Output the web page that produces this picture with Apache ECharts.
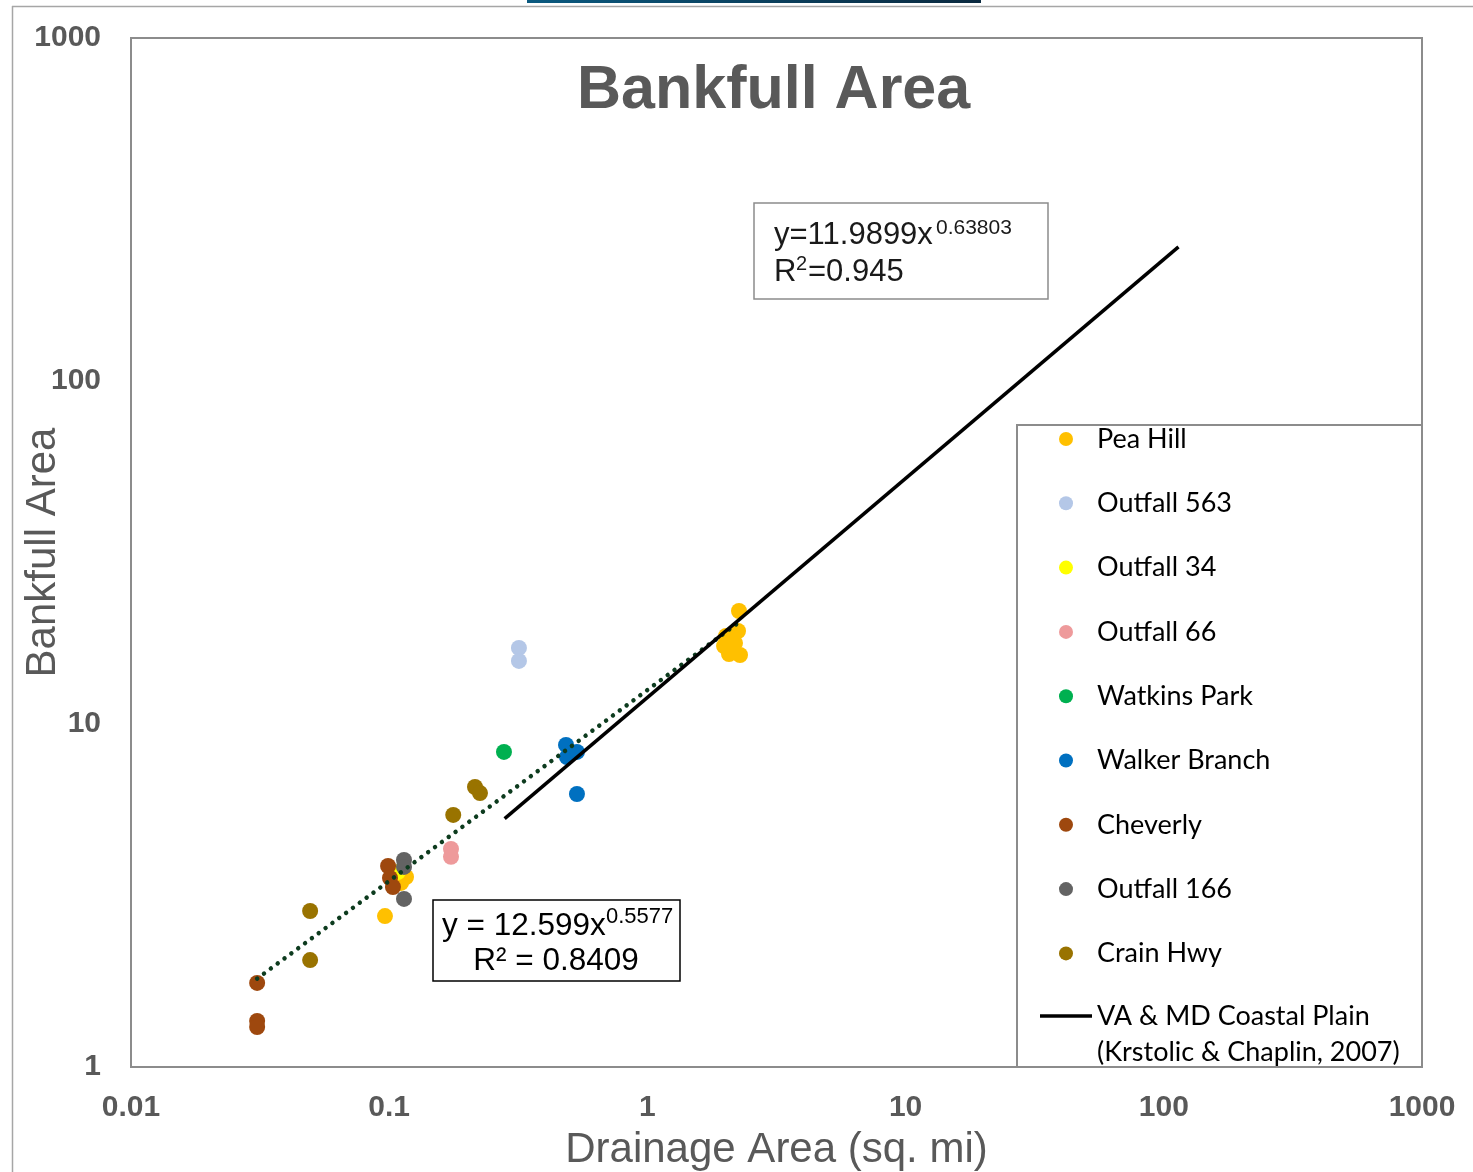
<!DOCTYPE html>
<html>
<head>
<meta charset="utf-8">
<script src="https://cdn.jsdelivr.net/npm/echarts@6/dist/echarts.min.js"></script>
<style>
html,body{margin:0;padding:0;background:#fff;}
#chart{width:1473px;height:1172px;}
</style>
</head>
<body>
<div id="chart"></div>
<script>
// ---- data ----
const xTickLabels = ['0.01', '0.1', '1', '10', '100', '1000'];
const yTickLabels = ['1', '10', '100', '1000'];

const peaHillX = [0.0963, 0.1162, 0.1111, 2.263, 2.244, 2.016, 2.184, 1.981, 2.07, 2.284, 2.145];
const peaHillY = [2.755, 3.58, 3.44, 21.35, 18.67, 18.06, 17.22, 16.88, 16.0, 15.89, 16.21];

const outfall563X = [0.318, 0.318];
const outfall563Y = [16.66, 15.27];

const outfall34X = [0.108];
const outfall34Y = [3.70];

const outfall66X = [0.1735, 0.1735];
const outfall66Y = [4.32, 4.10];

const watkinsX = [0.2783];
const watkinsY = [8.29];

const walkerX = [0.484, 0.488, 0.5336, 0.5336];
const walkerY = [8.69, 8.01, 8.29, 6.25];

const cheverlyX = [0.0308, 0.0308, 0.0308, 0.099, 0.1007, 0.1034];
const cheverlyY = [1.758, 1.362, 1.308, 3.855, 3.556, 3.348];

const outfall166X = [0.1141, 0.1141, 0.1141];
const outfall166Y = [4.015, 3.83, 3.09];

const crainX = [0.0494, 0.0494, 0.177, 0.2149, 0.2247];
const crainY = [2.85, 2.05, 5.43, 6.55, 6.29];

// regional curve (VA & MD Coastal Plain) end points
const coastalX = [0.28, 114];
const coastalY = [5.3, 246];

// power trendline of the data, end points
const trendX = [0.0308, 2.284];
const trendY = [1.81, 19.9];

const seriesNames = ['Pea Hill', 'Outfall 563', 'Outfall 34', 'Outfall 66', 'Watkins Park',
  'Walker Branch', 'Cheverly', 'Outfall 166', 'Crain Hwy'];
const seriesColors = ['#FFC000', '#B4C7E7', '#FFFF00', '#EE9A9B', '#00B050',
  '#0070C0', '#9E480E', '#636363', '#997300'];
const seriesX = [peaHillX, outfall563X, outfall34X, outfall66X, watkinsX, walkerX, cheverlyX, outfall166X, crainX];
const seriesY = [peaHillY, outfall563Y, outfall34Y, outfall66Y, watkinsY, walkerY, cheverlyY, outfall166Y, crainY];
const coastalName = 'VA & MD Coastal Plain\n(Krstolic & Chaplin, 2007)';

function pairs(xs, ys) { return xs.map((x, i) => [x, ys[i]]); }

const chart = echarts.init(document.getElementById('chart'), null, {renderer: 'canvas'});

const series = seriesNames.map((n, i) => ({
  name: n,
  type: 'scatter',
  symbol: 'circle',
  symbolSize: 16,
  itemStyle: {color: seriesColors[i], opacity: 1},
  data: pairs(seriesX[i], seriesY[i]),
  z: 2
}));
series.push({
  name: 'trend',
  type: 'line',
  symbol: 'none',
  data: pairs(trendX, trendY),
  lineStyle: {color: '#0D3B1E', width: 4.5, type: [0.01, 8.5], cap: 'round'},
  z: 3
});
series.push({
  name: coastalName,
  type: 'line',
  symbol: 'none',
  data: pairs(coastalX, coastalY),
  lineStyle: {color: '#000000', width: 3.5},
  itemStyle: {color: '#000000'},
  z: 3
});

const tickFont = {fontFamily: 'Liberation Sans', fontWeight: 'bold', fontSize: 30, color: '#595959'};
const annFont = '"Liberation Sans"';

const option = {
  backgroundColor: '#ffffff',
  animation: false,
  title: {
    text: 'Bankfull Area',
    left: 577,
    top: 61,
    padding: 0,
    textStyle: {fontFamily: 'Liberation Sans', fontWeight: 'bold', fontSize: 61, color: '#595959'}
  },
  grid: {
    left: 131, top: 38, width: 1291, height: 1029,
    containLabel: false, outerBoundsMode: 'none',
    show: true, borderColor: '#8c8c8c', borderWidth: 2, backgroundColor: 'transparent'
  },
  xAxis: {
    type: 'log', logBase: 10, min: 0.01, max: 1000,
    axisLine: {show: false}, axisTick: {show: false}, splitLine: {show: false},
    axisLabel: Object.assign({margin: 26, formatter: v => xTickLabels[Math.round(Math.log10(v)) + 2]}, tickFont),
    name: 'Drainage Area (sq. mi)', nameLocation: 'middle', nameGap: 62, nameMoveOverlap: false,
    nameTextStyle: {fontFamily: 'Liberation Sans', fontSize: 42, color: '#595959'}
  },
  yAxis: {
    type: 'log', logBase: 10, min: 1, max: 1000,
    axisLine: {show: false}, axisTick: {show: false}, splitLine: {show: false},
    axisLabel: Object.assign({margin: 30, formatter: v => yTickLabels[Math.round(Math.log10(v))]}, tickFont),
    name: 'Bankfull Area', nameLocation: 'middle', nameGap: 67, nameMoveOverlap: false,
    nameTextStyle: {fontFamily: 'Liberation Sans', fontSize: 42, color: '#595959'}
  },
  legend: [{
    data: seriesNames,
    orient: 'vertical',
    left: 1059, top: 424, padding: 0,
    itemWidth: 52, itemHeight: 14, itemGap: 34.3,
    selectedMode: false,
    textStyle: {fontFamily: 'Lato', fontSize: 27, color: '#000', lineHeight: 30}
  }, {
    data: [{name: coastalName, icon: 'rect'}],
    orient: 'vertical',
    left: 1040, top: 962, padding: 0,
    itemWidth: 52, itemHeight: 3.5,
    selectedMode: false,
    formatter: n => ' \n' + n,
    itemStyle: {color: '#000'},
    textStyle: {fontFamily: 'Lato', fontSize: 27, color: '#000', lineHeight: 36}
  }],
  graphic: [
    {type: 'rect', shape: {x: 527, y: 0, width: 454, height: 3},
      style: {fill: new echarts.graphic.LinearGradient(0, 0, 1, 0, [{offset: 0, color: '#0b5a80'}, {offset: 1, color: '#0b2a40'}])}, silent: true},
    {type: 'line', shape: {x1: 12, y1: 6.5, x2: 1473, y2: 6.5}, style: {stroke: '#a6a6a6', lineWidth: 1.5}, silent: true},
    {type: 'line', shape: {x1: 12.5, y1: 6, x2: 12.5, y2: 1172}, style: {stroke: '#a6a6a6', lineWidth: 1.5}, silent: true},
    {type: 'rect', z: 0, shape: {x: 1017, y: 425, width: 405, height: 642}, style: {fill: '#fff', stroke: '#8c8c8c', lineWidth: 2}, silent: true},
    {type: 'rect', shape: {x: 754, y: 203, width: 294, height: 96}, style: {fill: '#fff', stroke: '#8c8c8c', lineWidth: 1.5}, silent: true},
    {type: 'text', x: 774, y: 235, style: {text: 'y=11.9899x', font: '31px ' + annFont, fill: '#1a1a1a', verticalAlign: 'middle'}},
    {type: 'text', x: 936, y: 228, style: {text: '0.63803', font: '21px ' + annFont, fill: '#1a1a1a', verticalAlign: 'middle'}},
    {type: 'text', x: 774, y: 272, style: {text: 'R', font: '31px ' + annFont, fill: '#1a1a1a', verticalAlign: 'middle'}},
    {type: 'text', x: 796, y: 264, style: {text: '2', font: '20px ' + annFont, fill: '#1a1a1a', verticalAlign: 'middle'}},
    {type: 'text', x: 808, y: 272, style: {text: '=0.945', font: '31px ' + annFont, fill: '#1a1a1a', verticalAlign: 'middle'}},
    {type: 'rect', shape: {x: 433, y: 900, width: 247, height: 81}, style: {fill: '#fff', stroke: '#000', lineWidth: 1.5}, silent: true},
    {type: 'text', x: 442, y: 926, style: {text: 'y = 12.599x', font: '31.5px ' + annFont, fill: '#000', verticalAlign: 'middle'}},
    {type: 'text', x: 606, y: 917, style: {text: '0.5577', font: '22px ' + annFont, fill: '#000', verticalAlign: 'middle'}},
    {type: 'text', x: 556, y: 961, style: {text: 'R² = 0.8409', font: '31.5px ' + annFont, fill: '#000', align: 'center', verticalAlign: 'middle'}}
  ],
  series: series
};
chart.setOption(option);
</script>
</body>
</html>
